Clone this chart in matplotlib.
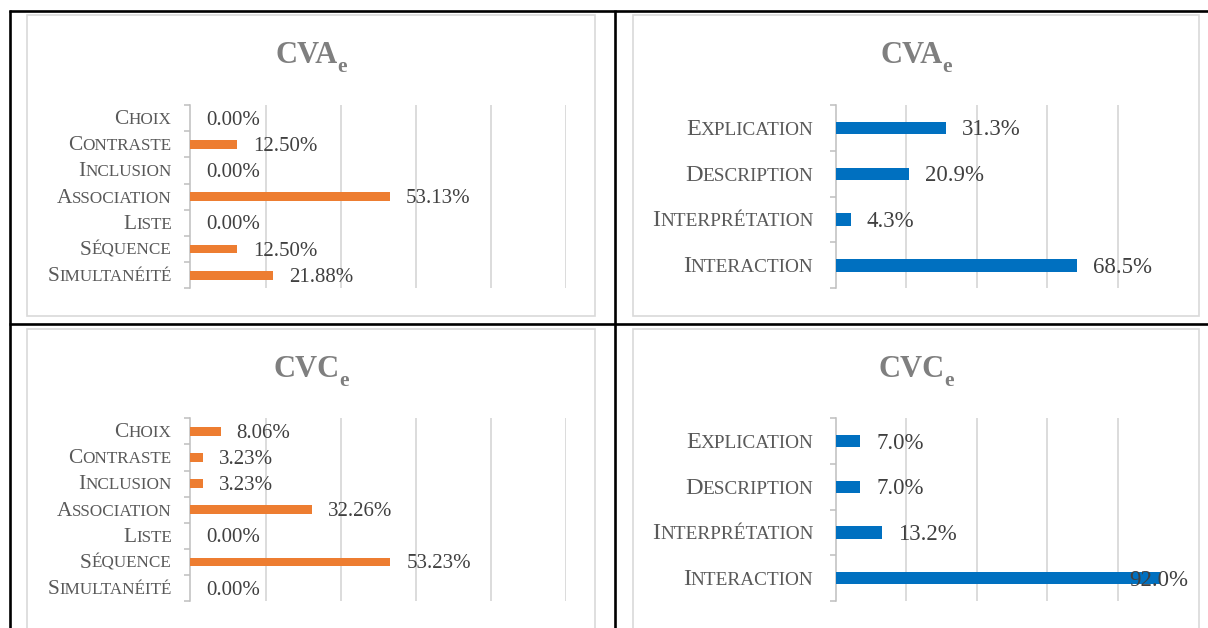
import matplotlib
matplotlib.use("Agg")
import matplotlib.pyplot as plt
from matplotlib.patches import Rectangle
from matplotlib.lines import Line2D
from matplotlib.offsetbox import TextArea, HPacker, AnnotationBbox

plt.rcParams["font.family"] = ["Liberation Serif", "DejaVu Serif"]

# ---- data -------------------------------------------------------------
relation_categories = ["Choix", "Contraste", "Inclusion", "Association",
                       "Liste", "Séquence", "Simultanéité"]
cva_relations = [0.0, 12.50, 0.0, 53.13, 0.0, 12.50, 21.88]
cvc_relations = [8.06, 3.23, 3.23, 32.26, 0.0, 53.23, 0.0]

function_categories = ["Explication", "Description", "Interprétation", "Interaction"]
cva_functions = [31.3, 20.9, 4.3, 68.5]
cvc_functions = [7.0, 7.0, 13.2, 92.0]

titles_top = ("CVA", "e")
titles_bottom = ("CVC", "e")

ORANGE = "#ED7D31"
BLUE = "#0070C0"
LABEL_GREY = "#595959"
VALUE_GREY = "#404040"
TITLE_GREY = "#7F7F7F"
GRID_GREY = "#D9D9D9"
AXIS_GREY = "#BFBFBF"

W, H = 1208, 628
fig = plt.figure(figsize=(W / 100, H / 100), dpi=100)
renderer = fig.canvas.get_renderer()


def fx(px):
    return px / W


def fy(py):
    return 1 - py / H


def small_caps(ax, y, word, big, small, gap):
    head = TextArea(word[0], textprops=dict(fontsize=big, color=LABEL_GREY))
    tail = TextArea(word[1:].upper(), textprops=dict(fontsize=small, color=LABEL_GREY))
    box = HPacker(children=[head, tail], align="baseline", pad=0, sep=0)
    ab = AnnotationBbox(box, (0, y), xycoords=("axes fraction", "data"),
                        xybox=(-gap, -1.0), boxcoords="offset points",
                        box_alignment=(1, 0.5), frameon=False, pad=0,
                        annotation_clip=False)
    ax.add_artist(ab)


def bar_panel(rect_px, cats, vals, color, bar_h, grid, fmt, big, small,
              value_size, gap):
    x0, y0, x1, y1 = rect_px
    ax = fig.add_axes([fx(x0), fy(y1), fx(x1 - x0), (y1 - y0) / H])
    n = len(cats)
    pos = list(range(n))
    fractions = [v / 100 for v in vals]
    ax.barh(pos, fractions, height=bar_h, color=color, zorder=3)
    ax.set_xlim(0, 1.0)
    ax.set_ylim(n - 0.5, -0.5)
    for g in grid:
        ax.axvline(g, color=GRID_GREY, lw=1.3, zorder=1)
    ax.set_xticks([])
    ax.set_yticks([i - 0.5 for i in range(n + 1)])
    ax.set_yticklabels([])
    ax.tick_params(axis="y", length=4.5, width=1.1, color=AXIS_GREY, direction="out")
    for side in ("top", "right", "bottom"):
        ax.spines[side].set_visible(False)
    ax.spines["left"].set_color(AXIS_GREY)
    ax.spines["left"].set_linewidth(1.1)
    ax.patch.set_alpha(0)

    for i, (c, v) in enumerate(zip(cats, fractions)):
        small_caps(ax, i, c, big, small, gap)
        label = fmt.format(v * 100)
        if v > 0.85:
            # no room past the bar end: keep the label inside the plot area
            ax.annotate(label, xy=(1.0, i), xycoords=("axes fraction", "data"),
                        xytext=(0, -1.5), textcoords="offset points",
                        ha="right", va="center", fontsize=value_size,
                        color=VALUE_GREY, zorder=4)
        else:
            ax.annotate(label, xy=(v, i), xytext=(11.5, -1.5),
                        textcoords="offset points", ha="left", va="center",
                        fontsize=value_size, color=VALUE_GREY, zorder=4)
    return ax


def chart_box(x0, y0, x1, y1):
    fig.add_artist(Rectangle((fx(x0), fy(y1)), fx(x1 - x0), (y1 - y0) / H,
                             transform=fig.transFigure, fill=False,
                             edgecolor=GRID_GREY, lw=1.2))


def title(cx, baseline_px, parts):
    main, sub = parts
    t1 = fig.text(0, fy(baseline_px), main, ha="left", va="baseline",
                  fontsize=22, fontweight="bold", color=TITLE_GREY)
    t2 = fig.text(0, fy(baseline_px + 8.5), sub, ha="left", va="baseline",
                  fontsize=15.5, fontweight="bold", color=TITLE_GREY)
    w1 = t1.get_window_extent(renderer).width
    w2 = t2.get_window_extent(renderer).width
    start = cx - (w1 + w2) / 2
    t1.set_x(fx(start))
    t2.set_x(fx(start + w1))


# chart frames
chart_box(27, 15, 595, 316)
chart_box(633, 15, 1199, 316)
chart_box(27, 329, 595, 650)
chart_box(633, 329, 1199, 650)

# titles
title(311, 63, titles_top)
title(916, 63, titles_top)
title(311, 377, titles_bottom)
title(916, 377, titles_bottom)

left_grid = [0.2, 0.4, 0.6, 0.8, 1.0]
right_grid = [0.2, 0.4, 0.6, 0.8]

bar_panel((190.5, 105, 566, 288.3), relation_categories, cva_relations, ORANGE,
          0.33, left_grid, "{:.2f}%", 15.4, 12.3, 15, 13.5)
bar_panel((835.7, 105, 1188, 288.3), function_categories, cva_functions, BLUE,
          0.27, right_grid, "{:.1f}%", 17.5, 13.9, 16.5, 16)
bar_panel((190.5, 418.3, 566, 601), relation_categories, cvc_relations, ORANGE,
          0.33, left_grid, "{:.2f}%", 15.4, 12.3, 15, 13.5)
bar_panel((835.7, 418.3, 1188, 601), function_categories, cvc_functions, BLUE,
          0.27, right_grid, "{:.1f}%", 17.5, 13.9, 16.5, 16)

# table rules
rule = dict(color="black", lw=1.9, transform=fig.transFigure, solid_capstyle="butt")
fig.add_artist(Line2D([fx(8.5), 1], [fy(11), fy(11)], **rule))
fig.add_artist(Line2D([fx(8.5), 1], [fy(324), fy(324)], **rule))
fig.add_artist(Line2D([fx(9.8), fx(9.8)], [fy(10), 0], **rule))
fig.add_artist(Line2D([fx(614.5), fx(614.5)], [fy(10), 0], **rule))

fig.savefig("out.png", dpi=100)
